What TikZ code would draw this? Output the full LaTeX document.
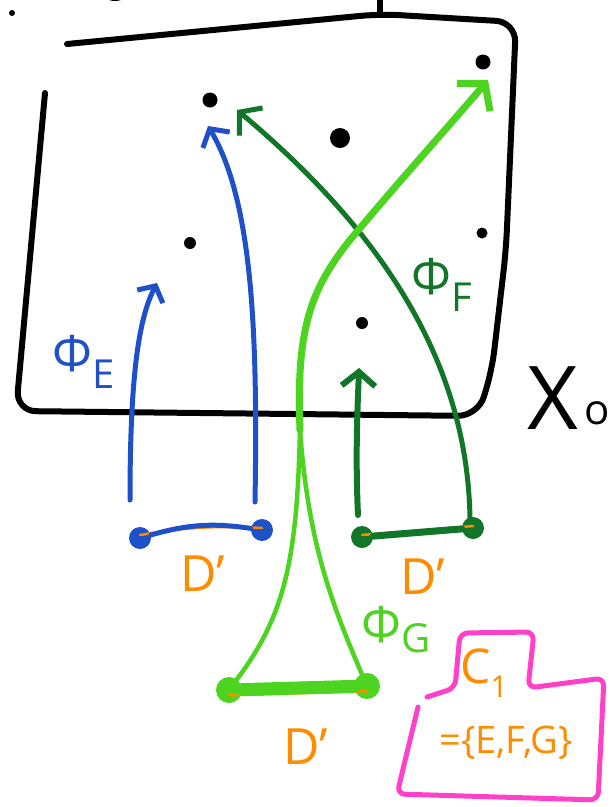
\documentclass[tikz,border=0pt]{standalone}
\usepackage{fontspec}
\setmainfont{Open Sans}
\usetikzlibrary{arrows.meta}
\definecolor{cblue}{RGB}{30,80,200}
\definecolor{cdgreen}{RGB}{18,118,40}
\definecolor{clgreen}{RGB}{76,212,32}
\definecolor{corange}{RGB}{255,140,0}
\definecolor{cpink}{RGB}{255,64,200}
\tikzset{
  dot/.style={circle,fill=black,inner sep=0pt,minimum size=#1},
  enddot/.style={circle,fill=#1,inner sep=0pt,minimum size=22pt},
  stroke/.style={line width=#1,line cap=round,line join=round},
  barb/.style={-{Straight Barb[length=#1,width=2.4*#1]}},
  lab/.style={font=\fontsize{50}{50}\selectfont,inner sep=0pt},
}
\begin{document}
\begin{tikzpicture}[x=1pt,y=-1pt]
\useasboundingbox (0,0) rectangle (614,807);
% frame X_0
\draw[stroke=6pt,rounded corners=20pt] (67,44) -- (380,14) -- (516,22) -- (506,250) -- (492,370) -- (478,416) -- (16,411) -- (45,93);
\draw[stroke=6pt] (380,0) -- (380,14);
\fill (115,-3) ellipse (9 and 4);
\node[dot=6pt] (d0) at (12,13) {};
\node[lab,font=\fontsize{88}{88}\selectfont] (X) at (553,398) {X};
\node[lab,font=\fontsize{42}{42}\selectfont] (Xo) at (597,413) {o};
% points in X_0
\node[dot=15pt] (p1) at (210,100) {};
\node[dot=20pt] (p2) at (340,138) {};
\node[dot=15pt] (p3) at (483,62) {};
\node[dot=12pt] (p4) at (190,243) {};
\node[dot=11pt] (p5) at (482,233) {};
\node[dot=12pt] (p6) at (362,323) {};
% arrow tips
\coordinate (a1) at (157,283);
\coordinate (a2) at (208,126);
\coordinate (a3) at (359,368);
\coordinate (a4) at (237,110);
\coordinate (a5) at (488,80);
\coordinate (m) at (300,430);
% blue segment
\node[enddot=cblue] (bl) at (140,538) {};
\node[enddot=cblue] (br) at (262,530) {};
\draw[stroke=2.5pt,corange] ([yshift=3pt]bl.center) to[bend left=6] ([yshift=2pt]br.center);
\draw[stroke=5pt,cblue] (bl) to[bend left=12] (br);
\coordinate (b1) at (130,500);
\coordinate (b2) at (255,502);
\draw[stroke=5pt,cblue,barb=12pt] (b1) .. controls (130,380) and (138,320) .. (a1);
\draw[stroke=5pt,cblue,barb=13pt] (b2) .. controls (258,330) and (252,200) .. (a2);
% dark green segment
\node[enddot=cdgreen] (gl) at (362,537) {};
\node[enddot=cdgreen] (gr) at (473,528) {};
\draw[stroke=2.5pt,corange] ([yshift=2pt]gl.center) -- ([yshift=2pt]gr.center);
\draw[stroke=7pt,cdgreen] (gl) -- (gr);
\coordinate (g1) at (358,515);
\coordinate (g2) at (470,520);
\draw[stroke=6pt,cdgreen,barb=14pt] (g1) .. controls (355,450) and (358,400) .. (a3);
\draw[stroke=5pt,cdgreen,barb=15pt] (g2) .. controls (468,360) and (380,230) .. (a4);
% light green segment
\node[enddot=clgreen,minimum size=26pt] (ll) at (229,690) {};
\node[enddot=clgreen,minimum size=26pt] (lr) at (367,686) {};
\draw[stroke=3pt,corange] ([yshift=-5pt]ll.center) -- ([yshift=-5pt]lr.center);
\draw[stroke=13pt,clgreen] (ll) -- (lr);
\draw[stroke=4.5pt,clgreen] (ll) .. controls (285,615) and (297,560) .. (m);
\draw[stroke=4.5pt,clgreen] (lr) .. controls (330,600) and (308,540) .. (m);
\draw[stroke=7pt,clgreen,barb=18pt] (m) .. controls (296,330) and (310,290) .. (350,240) .. controls (400,180) and (450,125) .. (a5);
% labels
\node[lab,cblue] (phiE) at (84,362) {Φ\raisebox{-0.35em}{\fontsize{40}{40}\selectfont E}};
\node[lab,cdgreen] (phiF) at (442,285) {Φ\raisebox{-0.35em}{\fontsize{40}{40}\selectfont F}};
\node[lab,clgreen] (phiG) at (396,630) {Φ\raisebox{-0.2em}{\fontsize{40}{40}\selectfont G}};
\node[lab,corange] (D1) at (203,574) {D'};
\node[lab,corange] (D2) at (423,577) {D'};
\node[lab,corange] (D3) at (306,747) {D'};
% pink box C_1
\draw[stroke=5pt,cpink,rounded corners=8pt] (427,697) -- (455,688) -- (460,633) -- (534,632) -- (528,688) -- (604,678) -- (598,800) -- (397,794) -- (418,707);
\node[lab,corange,font=\fontsize{48}{48}\selectfont] (C1) at (484,673) {C\raisebox{-0.3em}{\fontsize{30}{30}\selectfont 1}};
\node[lab,corange,font=\fontsize{38}{38}\selectfont] (set) at (506,743) {=\{E,F,G\}};
\end{tikzpicture}
\end{document}
